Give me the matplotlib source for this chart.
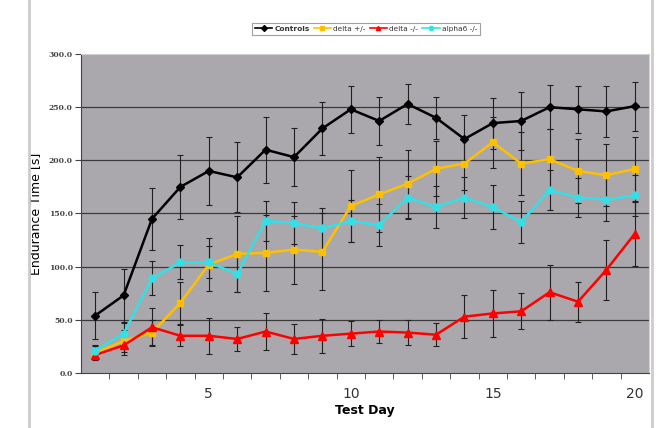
import numpy as np
import matplotlib.pyplot as plt
from matplotlib.lines import Line2D

days = np.arange(1, 21)

controls = [54, 73, 145, 175, 190, 184, 210, 203, 230, 248,
            237, 253, 240, 220, 235, 237, 250, 248, 246, 251]
controls_err = [22, 25, 29, 30, 32, 33, 31, 27, 25, 22,
                23, 19, 20, 23, 24, 27, 21, 22, 24, 23]

delta_het = [19, 30, 38, 66, 102, 112, 113, 116, 114, 157,
             168, 178, 192, 197, 217, 197, 201, 190, 186, 192]
delta_het_err = [6, 10, 12, 20, 25, 36, 36, 32, 36, 34,
                 35, 32, 26, 25, 24, 30, 28, 30, 29, 30]

delta_ko = [17, 26, 43, 35, 35, 32, 39, 32, 35, 37,
            39, 38, 36, 53, 56, 58, 76, 67, 97, 131]
delta_ko_err = [5, 9, 18, 10, 17, 11, 17, 14, 16, 12,
                11, 12, 11, 20, 22, 17, 26, 19, 28, 30]

alpha6 = [21, 37, 89, 104, 104, 93, 143, 141, 136, 143,
          139, 165, 156, 165, 156, 142, 172, 165, 163, 167]
alpha6_err = [5, 10, 16, 16, 15, 17, 19, 20, 19, 20,
              20, 20, 20, 19, 21, 20, 19, 18, 20, 19]

series = [
    ("Controls", controls, controls_err, "black", "D", 4),
    ("delta +/-", delta_het, delta_het_err, "#ffc000", "s", 5),
    ("delta -/-", delta_ko, delta_ko_err, "#ff0000", "^", 6),
    ("alpha6 -/-", alpha6, alpha6_err, "#33e0e8", "o", 5),
]

fig = plt.figure(figsize=(6.61, 4.28), dpi=100)
ax = fig.add_axes([81 / 661, 1 - 373 / 428, 568 / 661, 319 / 428])
ax.set_facecolor("#aaa8ac")

for y in range(50, 300, 50):
    ax.axhline(y, color="#3a3a3a", lw=0.9, zorder=1)

# error bars first (black), then the series lines
for name, vals, err, col, mk, ms in series:
    ax.errorbar(days, vals, yerr=err, fmt="none", ecolor="#202020",
                elinewidth=0.8, capsize=2, capthick=0.8, zorder=2)
for name, vals, err, col, mk, ms in series:
    ax.plot(days, vals, color=col, marker=mk, ms=ms, lw=1.8, zorder=3)

ax.set_xlim(0.5, 20.5)
ax.set_ylim(0, 300)
ax.set_xticks([5, 10, 15, 20])
ax.set_xticks(np.arange(1.5, 20.5, 1), minor=True)
ax.tick_params(axis="x", which="major", length=0, labelsize=10,
               labelcolor="#333333", pad=10)
ax.tick_params(axis="x", which="minor", length=4, color="#444444")
ax.set_yticks(range(0, 301, 50))
ax.set_yticklabels([f"{v:.1f}" for v in range(0, 301, 50)],
                   fontsize=5.5, fontweight="bold", family="DejaVu Serif",
                   color="#444444")
ax.tick_params(axis="y", length=4, color="#444444", pad=2)

for s in ["top", "right"]:
    ax.spines[s].set_color("#d0d0d0")
for s in ["left", "bottom"]:
    ax.spines[s].set_color("#444444")

ax.set_xlabel("Test Day", fontsize=9, fontweight="bold", labelpad=2)
ax.set_ylabel("Endurance Time [s]", fontsize=9)
ax.yaxis.set_label_coords(-0.069, 0.5)

handles = [Line2D([0], [0], color=c, marker=m, ms=3, lw=1.2)
           for _, _, _, c, m, _ in series]
leg = fig.legend(handles, [s[0] for s in series], loc="center",
                 bbox_to_anchor=(366 / 661, 1 - 29 / 428), ncol=4,
                 fontsize=5.3, frameon=True, fancybox=False,
                 handlelength=2.4, columnspacing=0.5, handletextpad=0.3,
                 borderpad=0.4)
leg.get_frame().set_edgecolor("#888888")
leg.get_frame().set_linewidth(0.8)
leg.get_texts()[0].set_fontweight("bold")
for t in leg.get_texts():
    t.set_color("#333333")

# outer frame lines of the original chart
fig.add_artist(Line2D([29 / 661, 29 / 661], [0, 1], color="#cccccc", lw=2))
fig.add_artist(Line2D([652 / 661, 652 / 661], [0, 1], color="#cccccc", lw=2))

fig.savefig("out.png", dpi=100)
